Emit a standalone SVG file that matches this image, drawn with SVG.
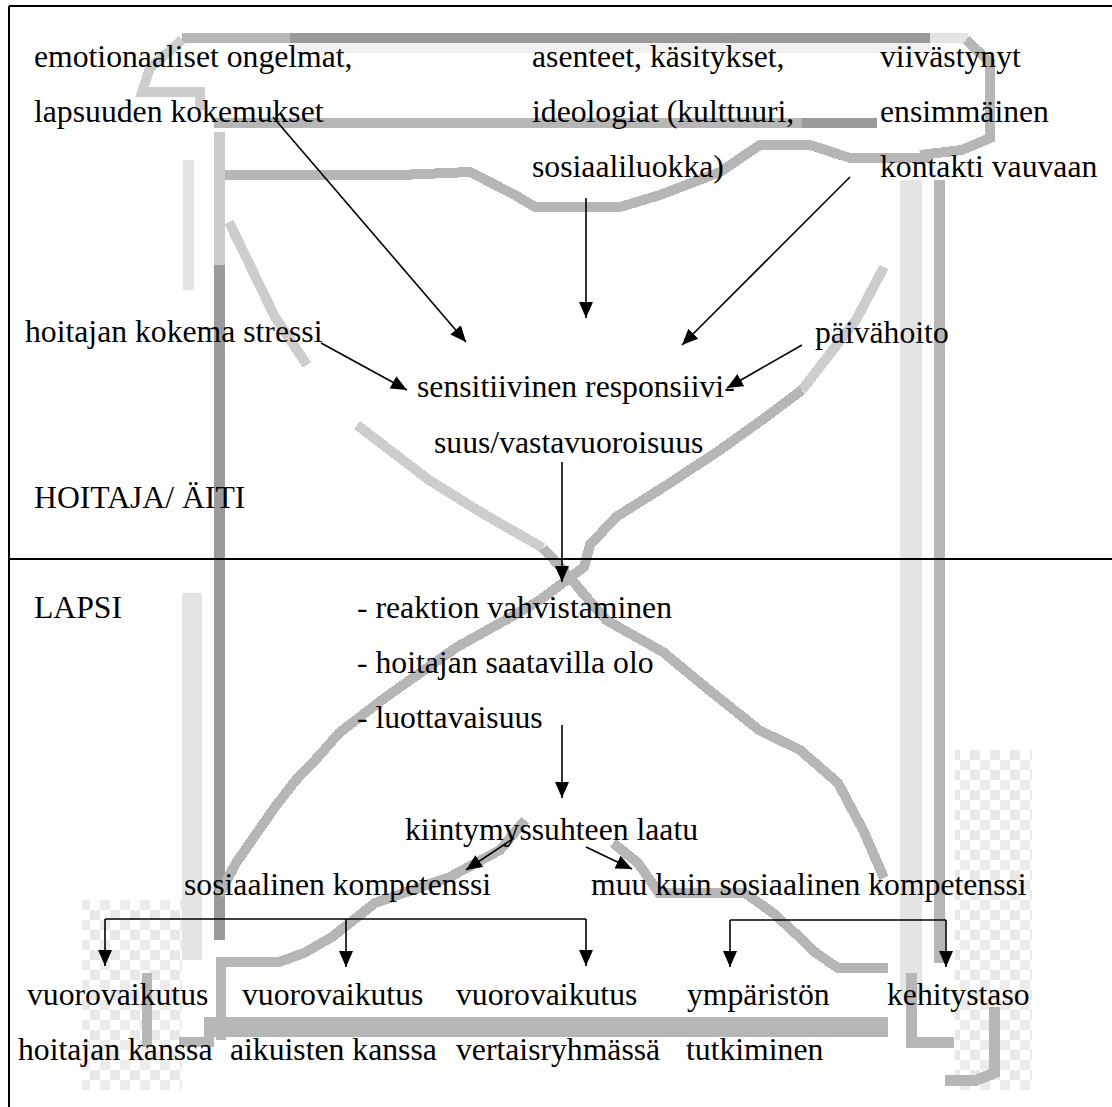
<svg xmlns="http://www.w3.org/2000/svg" width="1112" height="1107" viewBox="0 0 1112 1107">
<style>
text{font-family:"Liberation Serif","Times New Roman",serif;font-size:31.7px;fill:#000}
.wm{fill:none;shape-rendering:crispEdges;stroke-linejoin:miter}
.d{stroke:#9a9a9a}.m{stroke:#b6b6b6}.s{stroke:#cdcdcd}.l{stroke:#e4e4e4}.x{stroke:#f0f0f0}
.c{fill:none;stroke:#000;stroke-width:1.6}
.frame{fill:none;stroke:#000;stroke-width:2}
</style>
<defs>
<marker id="ah" viewBox="0 0 16 14" refX="16" refY="7" markerWidth="16" markerHeight="14" markerUnits="userSpaceOnUse" orient="auto"><path d="M0,0 L16,7 L0,14 z" fill="#000"/></marker>
<pattern id="chk" width="20" height="20" patternUnits="userSpaceOnUse"><rect width="20" height="20" fill="#fff"/><rect width="10" height="10" fill="#ececec"/><rect x="10" y="10" width="10" height="10" fill="#e8e8e8"/></pattern>
</defs>
<rect width="1112" height="1107" fill="#fff"/>
<g id="watermark">
<rect x="955" y="750" width="77" height="340" fill="url(#chk)"/>
<rect x="82" y="900" width="100" height="190" fill="url(#chk)"/>
<path class="wm l" stroke-width="22" d="M911,180 V1000"/>
<path class="wm l" stroke-width="20" d="M192,593 V960"/>
<path class="wm l" stroke-width="11" d="M188,160 V290"/>
<path class="wm x" stroke-width="10" d="M290,48 H930"/>
<path class="wm m" stroke-width="10" d="M182,38 H290"/>
<path class="wm d" stroke-width="10" d="M290,38 H930"/>
<path class="wm l" stroke-width="10" d="M930,38 H968"/>
<path class="wm s" stroke-width="10" d="M182,40 L150,68 L142,92 H200 L200,110"/>
<path class="wm m" stroke-width="10" d="M214,123 H802"/>
<path class="wm d" stroke-width="10" d="M802,123 H877"/>
<path class="wm m" stroke-width="10" d="M966,40 L990,62 V138 L962,150 L920,155"/>
<path class="wm m" stroke-width="10" d="M214,175 H400 L470,172 L515,195 L535,207 H620 L660,195 L720,172 L760,145 H810 L850,158 H930"/>
<path class="wm s" stroke-width="11" d="M219,132 V265"/>
<path class="wm d" stroke-width="11" d="M219,265 V940"/>
<path class="wm m" stroke-width="11" d="M939,180 V963"/>
<path class="wm s" stroke-width="10" d="M229,222 L275,317 L307,365"/>
<path class="wm s" stroke-width="10" d="M357,425 L429,480 L482,513 L543,548"/>
<path class="wm m" stroke-width="10" d="M543,548 L565,572 L606,620 L663,652 L709,690 L759,730 L800,750 L838,783 L863,830 L884,878"/>
<path class="wm s" stroke-width="10" d="M884,267 L856,320 L802,390"/>
<path class="wm m" stroke-width="10" d="M802,390 L766,417 L720,450 L670,483 L616,517 L590,545 L584,567 L540,600 L511,617 L457,647 L386,697 L339,733 L318,757 L296,780 L275,807 L254,837 L236,863 L219,895"/>
<path class="wm m" stroke-width="10" d="M525,820 L500,850 L450,877 L375,903 L332,937 L304,953 L279,962 H221 V1040"/>
<path class="wm m" stroke-width="10" d="M613,843 L638,863 L659,893 H745 L773,913 L795,933 L816,953 L838,968 H888"/>
<path class="wm m" stroke-width="20" d="M204,1027 H888"/>
<path class="wm m" stroke-width="10" d="M179,1042 H214"/>
<path class="wm m" stroke-width="10" d="M147,973 V1047"/>
<path class="wm m" stroke-width="11" d="M911,973 V1042 H954"/>
<path class="wm m" stroke-width="11" d="M994,1007 V1073 L977,1080 H945"/>
</g>
<g id="frame">
<path class="frame" d="M9,6 H1112 M9,6 V1107 M9,559 H1112"/>
</g>
<g id="connectors">
<path class="c" marker-end="url(#ah)" d="M273,117 L466,342"/>
<path class="c" marker-end="url(#ah)" d="M586,198 L586,318"/>
<path class="c" marker-end="url(#ah)" d="M850,177 L682,345"/>
<path class="c" marker-end="url(#ah)" d="M321,343 L407,390"/>
<path class="c" marker-end="url(#ah)" d="M802,345 L727,388"/>
<path class="c" marker-end="url(#ah)" d="M562,462 L562,582"/>
<path class="c" marker-end="url(#ah)" d="M562,725 L562,798"/>
<path class="c" marker-end="url(#ah)" d="M514,838 L466,870"/>
<path class="c" marker-end="url(#ah)" d="M586,847 L632,869"/>
<path class="c" d="M105,919 H586"/>
<path class="c" marker-end="url(#ah)" d="M105,919 V966"/>
<path class="c" marker-end="url(#ah)" d="M346,919 V967"/>
<path class="c" marker-end="url(#ah)" d="M586,919 V966"/>
<path class="c" d="M730,920 H946"/>
<path class="c" marker-end="url(#ah)" d="M730,920 V967"/>
<path class="c" marker-end="url(#ah)" d="M946,920 V967"/>
</g>
<g id="n-emotional"><text x="34" y="67">emotionaaliset ongelmat,</text><text x="34" y="122">lapsuuden kokemukset</text></g>
<g id="n-attitudes"><text x="532" y="67">asenteet, käsitykset,</text><text x="532" y="122">ideologiat (kulttuuri,</text><text x="532" y="177">sosiaaliluokka)</text></g>
<g id="n-delayed"><text x="880" y="67">viivästynyt</text><text x="880" y="122">ensimmäinen</text><text x="880" y="177">kontakti vauvaan</text></g>
<g id="n-stress"><text x="25" y="342">hoitajan kokema stressi</text></g>
<g id="n-daycare"><text x="815" y="343">päivähoito</text></g>
<g id="n-sensitive"><text x="417" y="397">sensitiivinen responsiivi-</text><text x="434" y="453">suus/vastavuoroisuus</text></g>
<g id="n-hoitaja"><text x="34" y="508">HOITAJA/ ÄITI</text></g>
<g id="n-lapsi"><text x="34" y="618">LAPSI</text></g>
<g id="n-list"><text x="357" y="618">- reaktion vahvistaminen</text><text x="357" y="673">- hoitajan saatavilla olo</text><text x="357" y="728">- luottavaisuus</text></g>
<g id="n-quality"><text x="405" y="840">kiintymyssuhteen laatu</text></g>
<g id="n-social"><text x="184" y="895">sosiaalinen kompetenssi</text></g>
<g id="n-nonsocial"><text x="591" y="895">muu kuin sosiaalinen kompetenssi</text></g>
<g id="n-caregiver"><text x="27" y="1005">vuorovaikutus</text><text x="18" y="1060">hoitajan kanssa</text></g>
<g id="n-adults"><text x="242" y="1005">vuorovaikutus</text><text x="230" y="1060">aikuisten kanssa</text></g>
<g id="n-peers"><text x="456" y="1005">vuorovaikutus</text><text x="456" y="1060">vertaisryhmässä</text></g>
<g id="n-environment"><text x="687" y="1005">ympäristön</text><text x="686" y="1060">tutkiminen</text></g>
<g id="n-development"><text x="887" y="1005">kehitystaso</text></g>
</svg>
